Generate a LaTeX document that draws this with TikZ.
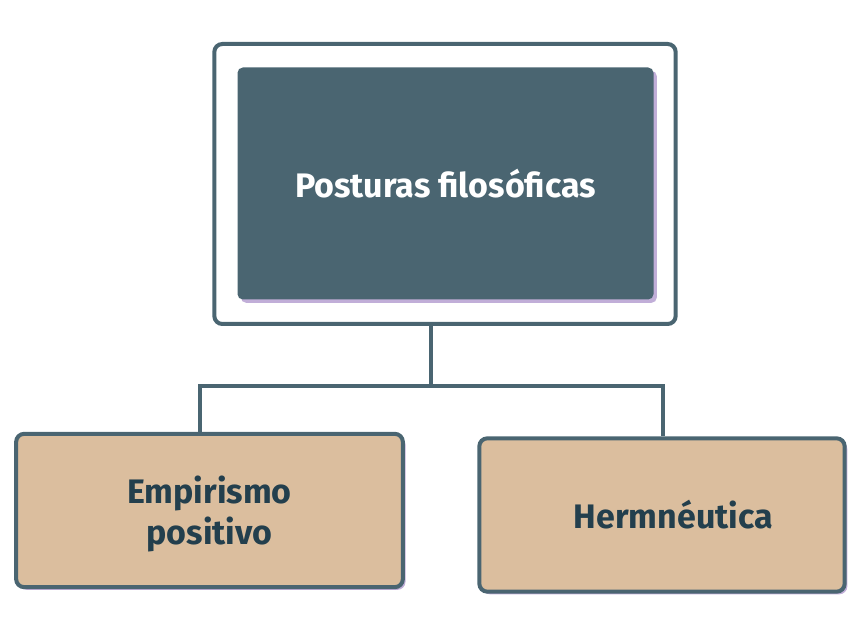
\documentclass[tikz,border=0pt]{standalone}
\usepackage{fontspec}
\setmainfont{Fira Sans}
\usetikzlibrary{positioning,shadows}
\definecolor{slate}{HTML}{4A6571}
\definecolor{sand}{HTML}{DBBE9E}
\definecolor{ink}{HTML}{233F4D}
\definecolor{lilac}{HTML}{8E6CB8}
\begin{document}
\begin{tikzpicture}[x=0.75pt,y=-0.75pt,font=\bfseries\fontsize{25.5}{31}\selectfont,
  frame/.style={draw=slate,line width=3pt,rounded corners=6pt,minimum width=346pt,minimum height=210pt},
  topbox/.style={fill=slate,text=white,rounded corners=4pt,minimum width=312pt,minimum height=174pt,
    drop shadow={fill=lilac,opacity=.55,shadow xshift=2.5pt,shadow yshift=-2.5pt}},
  leaf/.style={draw=slate,fill=sand,text=ink,line width=3pt,rounded corners=6pt,align=center,
    minimum height=115pt,drop shadow={fill=lilac,opacity=.55,shadow xshift=2pt,shadow yshift=-2pt}},
  link/.style={draw=slate,line width=2.3pt}]
\useasboundingbox (0,0) rectangle (861,630);
\node[frame] (outer) at (445,184) {};
\node[topbox] (root) at (445.5,183.5) {Posturas filosóficas};
\node[leaf,minimum width=290pt] (emp) at (209.5,510.5) {\rule{0pt}{26pt}Empirismo\\positivo};
\node[leaf,minimum width=274pt] (her) at (662,515) {\hspace*{17pt}Hermnéutica};
\coordinate (hub) at (431,386);
\coordinate (jl) at (200,386);
\coordinate (jr) at (663,386);
\draw[link] (hub |- outer.south) -- (hub);
\draw[link] (jl |- emp.north) -- (jl) -- (jr) -- (jr |- her.north);
\end{tikzpicture}
\end{document}
